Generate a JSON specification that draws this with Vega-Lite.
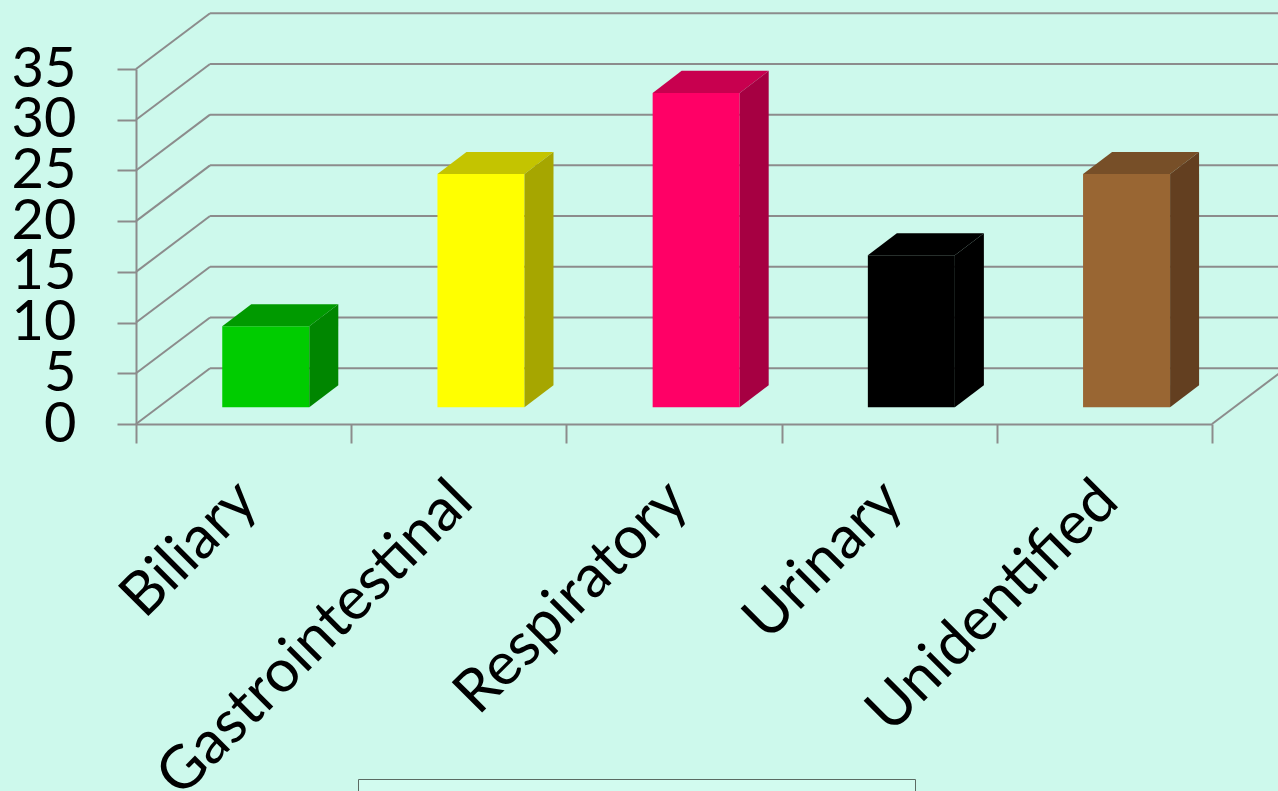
{
  "$schema": "https://vega.github.io/schema/vega-lite/v6.json",
  "width": 1076,
  "height": 355,
  "autosize": {"type": "none"},
  "padding": {"left": 136, "top": 69, "right": 66, "bottom": 367},
  "background": "#cdf9ec",
  "params": [
    {"name": "DX", "value": 0.344},
    {"name": "DY", "value": 5.5},
    {"name": "FX", "value": 0.103},
    {"name": "FY", "value": 1.646},
    {"name": "HW", "value": 0.2022},
    {"name": "BDX", "value": 0.1348},
    {"name": "BDY", "value": 2.17}
  ],
  "datasets": {
    "causes": [
      {"cause": "Biliary", "pct": 8},
      {"cause": "Gastrointestinal", "pct": 23},
      {"cause": "Respiratory", "pct": 31},
      {"cause": "Urinary", "pct": 15},
      {"cause": "Unidentified", "pct": 23}
    ],
    "ticks": [{"v": 0}, {"v": 5}, {"v": 10}, {"v": 15}, {"v": 20}, {"v": 25}, {"v": 30}, {"v": 35}]
  },
  "config": {
    "view": {"stroke": null},
    "axis": {
      "domainColor": "#8c8c8c",
      "domainWidth": 2,
      "tickColor": "#8c8c8c",
      "tickWidth": 2,
      "tickSize": 19,
      "labelFont": "Lato",
      "labelFontSize": 56,
      "labelColor": "#000000",
      "labelLimit": 900,
      "grid": false
    }
  },
  "resolve": {"scale": {"color": "independent"}, "legend": {"color": "independent"}},
  "layer": [
    {
      "data": {"name": "ticks"},
      "transform": [
        {"calculate": "0", "as": "xa"},
        {"calculate": "DX", "as": "xb"},
        {"calculate": "datum.v + DY", "as": "vb"}
      ],
      "mark": {"type": "rule", "color": "#8c8c8c", "strokeWidth": 2},
      "encoding": {
        "x": {
          "field": "xa", "type": "quantitative", "title": null,
          "scale": {"domain": [0, 5], "nice": false, "zero": false},
          "axis": {
            "values": [0, 1, 2, 3, 4, 5],
            "labelOffset": 111,
            "labelAngle": -45,
            "labelAlign": "right",
            "labelBaseline": "middle",
            "labelPadding": 48,
            "labelFontSize": 60,
            "labelOverlap": false,
            "labelFlush": false,
            "labelBound": false,
            "labelLimit": 900,
            "labelExpr": "datum.value < 5 ? ['Biliary','Gastrointestinal','Respiratory','Urinary','Unidentified'][datum.value] : ''"
          }
        },
        "x2": {"field": "xb"},
        "y": {
          "field": "v", "type": "quantitative", "title": null,
          "scale": {"domain": [0, 35], "nice": false},
          "axis": {
            "values": [0, 5, 10, 15, 20, 25, 30, 35],
            "labelPadding": 41,
            "labelAlign": "right",
            "labelBaseline": "middle",
            "labelFlush": false,
            "labelOverlap": false
          }
        },
        "y2": {"field": "vb"}
      }
    },
    {
      "data": {"name": "ticks"},
      "transform": [
        {"calculate": "DX", "as": "xa"},
        {"calculate": "5.6", "as": "xb"},
        {"calculate": "datum.v + DY", "as": "vb"}
      ],
      "mark": {"type": "rule", "color": "#8c8c8c", "strokeWidth": 2},
      "encoding": {
        "x": {"field": "xa", "type": "quantitative", "title": null},
        "x2": {"field": "xb"},
        "y": {"field": "vb", "type": "quantitative", "title": null}
      }
    },
    {
      "data": {"name": "ticks"},
      "transform": [
        {"filter": "datum.v == 0"},
        {"calculate": "5", "as": "xa"},
        {"calculate": "5 + DX", "as": "xb"},
        {"calculate": "datum.v + DY", "as": "vb"}
      ],
      "mark": {"type": "rule", "color": "#8c8c8c", "strokeWidth": 2},
      "encoding": {
        "x": {"field": "xa", "type": "quantitative", "title": null},
        "x2": {"field": "xb"},
        "y": {"field": "v", "type": "quantitative", "title": null},
        "y2": {"field": "vb"}
      }
    },
    {
      "data": {"name": "causes"},
      "transform": [
        {"window": [{"op": "row_number", "as": "rn"}]},
        {"calculate": "datum.rn - 1 + 0.5 + FX - HW", "as": "xl"},
        {"calculate": "datum.rn - 1 + 0.5 + FX + HW", "as": "xr"},
        {"calculate": "FY", "as": "y0"},
        {"calculate": "datum.pct + FY", "as": "y1"}
      ],
      "mark": {"type": "rect"},
      "encoding": {
        "x": {"field": "xl", "type": "quantitative", "title": null},
        "x2": {"field": "xr"},
        "y": {"field": "y0", "type": "quantitative", "title": null},
        "y2": {"field": "y1"},
        "color": {
          "field": "cause", "type": "nominal",
          "scale": {
            "domain": ["Biliary", "Gastrointestinal", "Respiratory", "Urinary", "Unidentified"],
            "range": ["#00cc00", "#ffff00", "#ff0066", "#000000", "#996633"]
          },
          "legend": {
            "orient": "none",
            "legendX": 222,
            "legendY": 710,
            "direction": "horizontal",
            "columns": 5,
            "title": null,
            "strokeColor": "#5b6b63",
            "fillColor": "#d2fbef",
            "padding": 15,
            "labelFont": "Lato",
            "labelFontSize": 30,
            "labelLimit": 70,
            "symbolType": "square",
            "symbolSize": 400,
            "gridAlign": "all",
            "columnPadding": 2
          }
        }
      }
    },
    {
      "data": {"name": "causes"},
      "transform": [
        {"window": [{"op": "row_number", "as": "rn"}]},
        {"calculate": "0", "as": "t0"},
        {"calculate": "1", "as": "t1"},
        {"fold": ["t0", "t1"], "as": ["k", "t"]},
        {"calculate": "datum.rn - 1 + 0.5 + FX - HW + datum.t * BDX", "as": "xl"},
        {"calculate": "datum.rn - 1 + 0.5 + FX + HW + datum.t * BDX", "as": "xr"},
        {"calculate": "datum.pct + FY + datum.t * BDY", "as": "yy"}
      ],
      "mark": {"type": "area", "orient": "horizontal"},
      "encoding": {
        "y": {"field": "yy", "type": "quantitative", "title": null},
        "x": {"field": "xl", "type": "quantitative", "title": null},
        "x2": {"field": "xr"},
        "color": {
          "field": "cause", "type": "nominal", "legend": null,
          "scale": {
            "domain": ["Biliary", "Gastrointestinal", "Respiratory", "Urinary", "Unidentified"],
            "range": ["#009a00", "#c4c400", "#c8004f", "#000000", "#774f28"]
          }
        }
      }
    },
    {
      "data": {"name": "causes"},
      "transform": [
        {"window": [{"op": "row_number", "as": "rn"}]},
        {"calculate": "0", "as": "t0"},
        {"calculate": "1", "as": "t1"},
        {"fold": ["t0", "t1"], "as": ["k", "t"]},
        {"calculate": "datum.rn - 1 + 0.5 + FX + HW + datum.t * BDX", "as": "xs"},
        {"calculate": "FY + datum.t * BDY", "as": "ya"},
        {"calculate": "datum.pct + FY + datum.t * BDY", "as": "yb"}
      ],
      "mark": {"type": "area", "orient": "vertical"},
      "encoding": {
        "x": {"field": "xs", "type": "quantitative", "title": null},
        "y": {"field": "ya", "type": "quantitative", "title": null},
        "y2": {"field": "yb"},
        "color": {
          "field": "cause", "type": "nominal", "legend": null,
          "scale": {
            "domain": ["Biliary", "Gastrointestinal", "Respiratory", "Urinary", "Unidentified"],
            "range": ["#008600", "#a6a600", "#a60042", "#000000", "#633f20"]
          }
        }
      }
    }
  ]
}
